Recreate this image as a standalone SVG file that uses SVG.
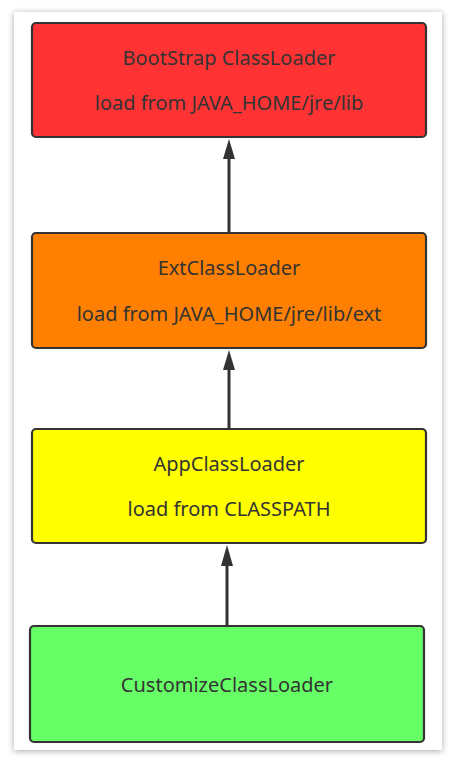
<svg xmlns="http://www.w3.org/2000/svg" width="458" height="762" viewBox="0 0 458 762">
<defs>
<filter id="sh" x="-10%" y="-10%" width="120%" height="120%">
<feGaussianBlur in="SourceAlpha" stdDeviation="3"/>
<feOffset dx="0" dy="1"/>
<feComponentTransfer><feFuncA type="linear" slope="0.35"/></feComponentTransfer>
<feMerge><feMergeNode/><feMergeNode in="SourceGraphic"/></feMerge>
</filter>
</defs>
<style>
.box{stroke:#333;stroke-width:2.2}
.t{font-family:"Noto Sans","Open Sans",sans-serif;font-size:20px;fill:#333;text-anchor:middle}
.c{stroke:#333;stroke-width:3;fill:none}
.h{fill:#333}
</style>
<rect width="458" height="762" fill="#fff"/>
<rect x="14" y="12" width="428" height="738" fill="#fff" filter="url(#sh)"/>
<g id="bootstrap">
<rect class="box" x="32" y="23" width="394" height="114" rx="4" fill="#FF3333"/>
<text class="t" x="229" y="65">BootStrap ClassLoader</text>
<text class="t" x="229" y="110">load from JAVA_HOME/jre/lib</text>
</g>
<g id="ext">
<rect class="box" x="32" y="233" width="394" height="115" rx="4" fill="#FF8000"/>
<text class="t" x="229" y="275">ExtClassLoader</text>
<text class="t" x="229" y="321">load from JAVA_HOME/jre/lib/ext</text>
</g>
<g id="app">
<rect class="box" x="32" y="429" width="394" height="114" rx="4" fill="#FFFF00"/>
<text class="t" x="229" y="471">AppClassLoader</text>
<text class="t" x="229" y="516">load from CLASSPATH</text>
</g>
<g id="customize">
<rect class="box" x="30" y="626" width="394" height="116" rx="4" fill="#66FF66"/>
<text class="t" x="227" y="692">CustomizeClassLoader</text>
</g>
<g id="connectors">
<line class="c" x1="229" y1="232" x2="229" y2="158"/>
<path class="h" d="M229 139 L235 159 L223 159 Z"/>
<line class="c" x1="229" y1="428" x2="229" y2="368"/>
<path class="h" d="M229 350 L235 370 L223 370 Z"/>
<line class="c" x1="227" y1="625" x2="227" y2="564"/>
<path class="h" d="M227 545 L233 566 L221 566 Z"/>
</g>
</svg>
